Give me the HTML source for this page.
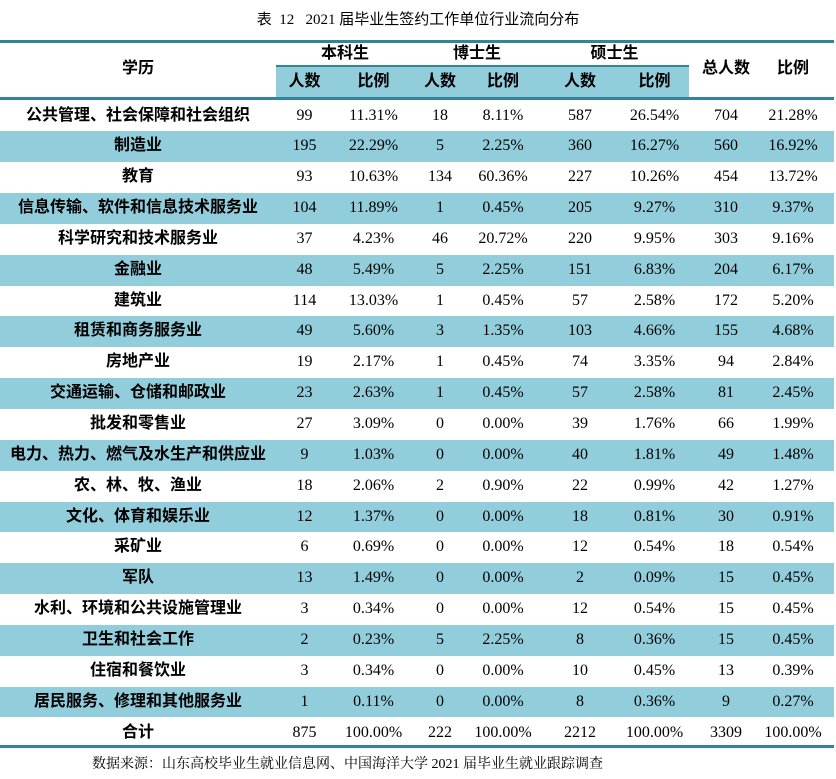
<!DOCTYPE html>
<html><head><meta charset="utf-8"><style>
body{margin:0;width:836px;height:779px;background:#fff;position:relative;overflow:hidden;font-family:"Liberation Serif","Noto Serif CJK SC",serif;color:#000}
.abs{position:absolute}
.c{position:absolute;text-align:center;white-space:nowrap}
.h{font-family:"Liberation Sans","Noto Sans CJK SC",sans-serif;font-weight:bold;font-size:16px}
.n{font-size:16px}
.line{position:absolute;left:0;width:834px;background:#31849B}
</style></head><body>
<div class="c" style="left:0;width:836px;top:8px;font-size:15px;font-family:'Liberation Serif','Noto Sans CJK SC',serif">表&nbsp; 12&nbsp;&nbsp; 2021 届毕业生签约工作单位行业流向分布</div>
<div class="line" style="top:40px;height:3px"></div>
<div class="abs" style="left:276px;top:66px;width:413px;height:32px;background:#92CDDC"></div>
<div class="abs" style="left:276px;top:65px;width:413px;height:2px;background:#31849B"></div>
<div class="line" style="top:97px;height:3px"></div>
<div class="c h" style="left:0;width:276px;top:58px;line-height:22px">学历</div>
<div class="c h" style="left:276px;width:138px;top:43px;line-height:22px">本科生</div>
<div class="c h" style="left:414px;width:126px;top:43px;line-height:22px">博士生</div>
<div class="c h" style="left:540px;width:149px;top:43px;line-height:22px">硕士生</div>
<div class="c h" style="left:689px;width:74px;top:58px;line-height:22px">总人数</div>
<div class="c h" style="left:763px;width:60px;top:58px;line-height:22px">比例</div>
<div id="sub"></div>
<div id="rows"></div>
<div class="line" style="top:745px;height:3px"></div>
<div class="abs" style="left:92px;top:753px;font-size:14px;white-space:nowrap">数据来源：山东高校毕业生就业信息网、中国海洋大学 2021 届毕业生就业跟踪调查</div>
<script>
const industries=["公共管理、社会保障和社会组织","制造业","教育","信息传输、软件和信息技术服务业","科学研究和技术服务业","金融业","建筑业","租赁和商务服务业","房地产业","交通运输、仓储和邮政业","批发和零售业","电力、热力、燃气及水生产和供应业","农、林、牧、渔业","文化、体育和娱乐业","采矿业","军队","水利、环境和公共设施管理业","卫生和社会工作","住宿和餐饮业","居民服务、修理和其他服务业","合计"];
const bachelorCount=[99,195,93,104,37,48,114,49,19,23,27,9,18,12,6,13,3,2,3,1,875];
const bachelorRatio=["11.31%","22.29%","10.63%","11.89%","4.23%","5.49%","13.03%","5.60%","2.17%","2.63%","3.09%","1.03%","2.06%","1.37%","0.69%","1.49%","0.34%","0.23%","0.34%","0.11%","100.00%"];
const phdCount=[18,5,134,1,46,5,1,3,1,1,0,0,2,0,0,0,0,5,0,0,222];
const phdRatio=["8.11%","2.25%","60.36%","0.45%","20.72%","2.25%","0.45%","1.35%","0.45%","0.45%","0.00%","0.00%","0.90%","0.00%","0.00%","0.00%","0.00%","2.25%","0.00%","0.00%","100.00%"];
const masterCount=[587,360,227,205,220,151,57,103,74,57,39,40,22,18,12,2,12,8,10,8,2212];
const masterRatio=["26.54%","16.27%","10.26%","9.27%","9.95%","6.83%","2.58%","4.66%","3.35%","2.58%","1.76%","1.81%","0.99%","0.81%","0.54%","0.09%","0.54%","0.36%","0.45%","0.36%","100.00%"];
const totalCount=[704,560,454,310,303,204,172,155,94,81,66,49,42,30,18,15,15,15,13,9,3309];
const totalRatio=["21.28%","16.92%","13.72%","9.37%","9.16%","6.17%","5.20%","4.68%","2.84%","2.45%","1.99%","1.48%","1.27%","0.91%","0.54%","0.45%","0.45%","0.45%","0.39%","0.27%","100.00%"];
const subLabels=["人数","比例","人数","比例","人数","比例"];
const colL=[276,333,414,466,540,620,689,763,823];
const sub=document.getElementById('sub');
subLabels.forEach((t,i)=>{
  const d=document.createElement('div');
  
  
  d.className='c h';d.style.left=colL[i]+'px';d.style.width=(colL[i+1]-colL[i])+'px';d.style.top='66px';d.style.lineHeight='31px';d.textContent=t;sub.appendChild(d);
});
const rows=document.getElementById('rows');
const top0=100.5,rh=30.85;
industries.forEach((name,r)=>{
  const y=top0+r*rh;
  if(r%2===1){const b=document.createElement('div');
    
    
    b.className='abs';b.style.cssText='left:0;width:834px;background:#92CDDC;top:'+y+'px;height:'+rh+'px';rows.appendChild(b);}
  const lab=document.createElement('div');
  
  
  lab.className='c h';lab.style.cssText='left:0;width:276px;top:'+y+'px;line-height:'+rh+'px';lab.textContent=name;rows.appendChild(lab);
  const vals=[bachelorCount[r],bachelorRatio[r],phdCount[r],phdRatio[r],masterCount[r],masterRatio[r],totalCount[r],totalRatio[r]];
  vals.forEach((v,i)=>{
    const d=document.createElement('div');
    
    
    d.className='c n';d.style.cssText='left:'+colL[i]+'px;width:'+(colL[i+1]-colL[i])+'px;top:'+y+'px;line-height:'+rh+'px';d.textContent=v;rows.appendChild(d);
  });
});
</script>
</body></html>
